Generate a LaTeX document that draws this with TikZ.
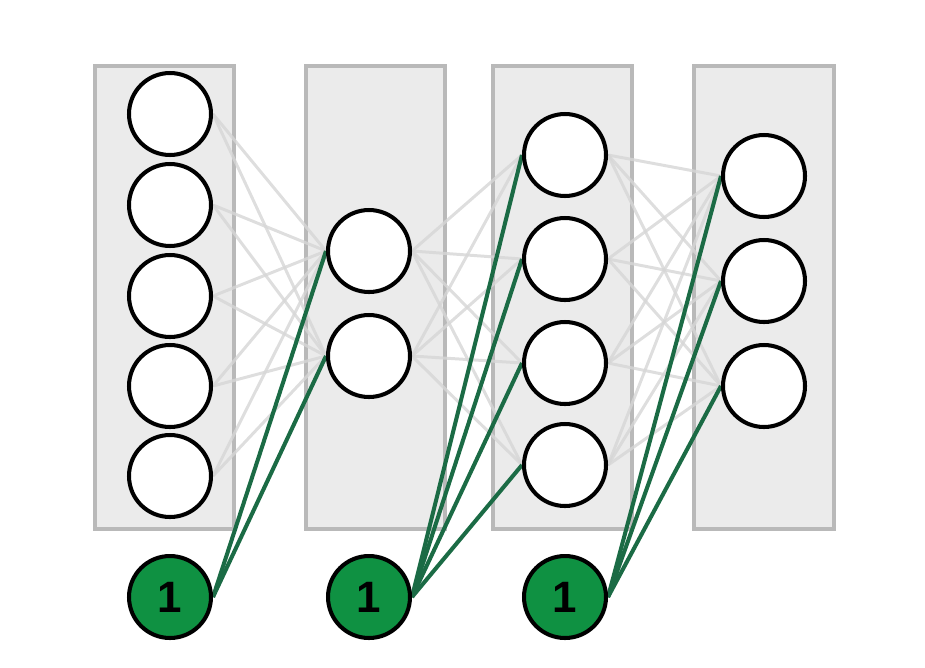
\documentclass[tikz,border=0pt]{standalone}
\usepackage{fontspec}
\setmainfont{Liberation Sans}
\usepackage{tikz}
\usetikzlibrary{positioning, backgrounds}
\usepackage{xcolor}

\definecolor{boxfill}{HTML}{EBEBEB}
\definecolor{boxline}{HTML}{B9B9B9}
\definecolor{biasfill}{HTML}{0F9142}
\definecolor{biasline}{HTML}{1B6B45}
\definecolor{edgegray}{HTML}{D6D6D6}

\tikzset{
    layerbox/.style={draw=boxline, fill=boxfill, line width=1.8pt},
    neuron/.style={circle, draw=black, fill=white, line width=2.3pt,
        minimum size=1.64cm, inner sep=0pt},
    biasnode/.style={neuron, fill=biasfill, font=\fontsize{25}{25}\selectfont\bfseries},
    weight/.style={edgegray, line width=1.7pt, opacity=0.8},
    biasweight/.style={biasline, line width=2.3pt}
}

\begin{document}
\begin{tikzpicture}[x=0.02cm, y=-0.02cm]
    \useasboundingbox (0,0) rectangle (925,667);

    % Layer boxes
    \begin{scope}[on background layer]
        \draw[layerbox] (95,66) rectangle (234,529);
        \draw[layerbox] (306,66) rectangle (445,529);
        \draw[layerbox] (493,66) rectangle (632,529);
        \draw[layerbox] (694,66) rectangle (834,529);
    \end{scope}

    % Input layer
    \node[neuron] (in1) at (170,114) {};
    \node[neuron] (in2) at (170,205) {};
    \node[neuron] (in3) at (170,296) {};
    \node[neuron] (in4) at (170,386) {};
    \node[neuron] (in5) at (170,476) {};

    % First hidden layer
    \node[neuron] (ha1) at (369,251) {};
    \node[neuron] (ha2) at (369,356) {};

    % Second hidden layer
    \node[neuron] (hb1) at (565,155) {};
    \node[neuron] (hb2) at (565,259) {};
    \node[neuron] (hb3) at (565,363) {};
    \node[neuron] (hb4) at (565,465) {};

    % Output layer
    \node[neuron] (out1) at (764,176) {};
    \node[neuron] (out2) at (764,281) {};
    \node[neuron] (out3) at (764,386) {};

    % Bias units
    \node[biasnode] (bias1) at (170,597) {1};
    \node[biasnode] (bias2) at (369,597) {1};
    \node[biasnode] (bias3) at (565,597) {1};

    % Weights between layers
    \begin{scope}[on background layer]
        \foreach \i in {1,...,5}
            \foreach \j in {1,2}
                \draw[weight] (in\i.east) -- (ha\j.west);
        \foreach \i in {1,2}
            \foreach \j in {1,...,4}
                \draw[weight] (ha\i.east) -- (hb\j.west);
        \foreach \i in {1,...,4}
            \foreach \j in {1,2,3}
                \draw[weight] (hb\i.east) -- (out\j.west);

        % Bias weights
        \foreach \j in {1,2}
            \draw[biasweight] (bias1.east) -- (ha\j.west);
        \foreach \j in {1,...,4}
            \draw[biasweight] (bias2.east) -- (hb\j.west);
        \foreach \j in {1,2,3}
            \draw[biasweight] (bias3.east) -- (out\j.west);
    \end{scope}

\end{tikzpicture}
\end{document}
